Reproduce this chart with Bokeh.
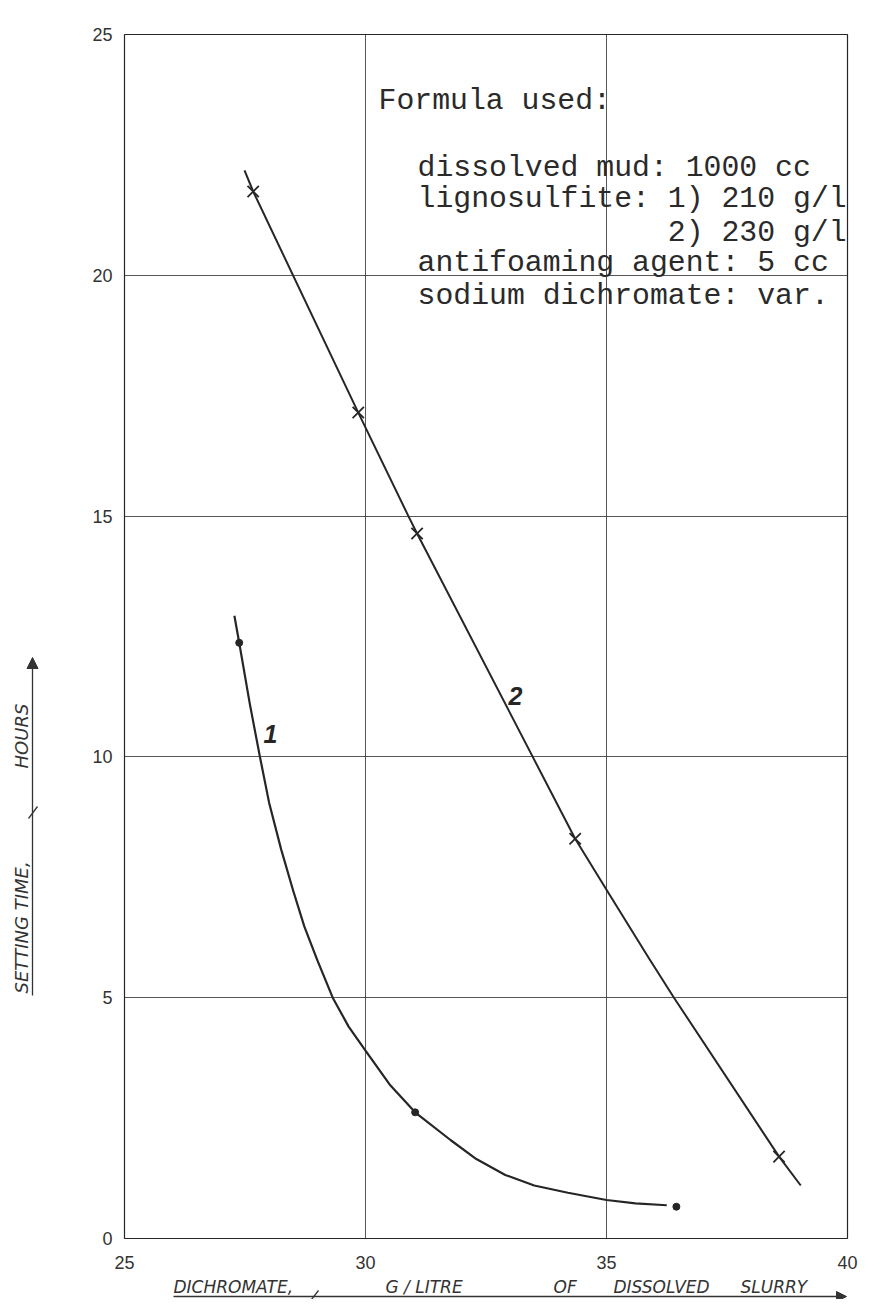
import math
from bokeh.plotting import figure
from bokeh.layouts import row, column
from bokeh.models import Range1d, Label, Arrow, NormalHead, FixedTicker
from bokeh.embed import file_html
from bokeh.resources import INLINE
from bokeh.core.properties import value

# ---------------- data ----------------
x_ticks = [25, 30, 35, 40]
y_ticks = [0, 5, 10, 15, 20, 25]

# curve 1 (lignosulfite 210 g/l): traced line and measured points
curve1_x = [27.28, 27.38, 27.60, 27.81, 28.00, 28.25, 28.50, 28.73, 29.00, 29.32, 29.65, 30.00,
            30.50, 31.03, 31.77, 32.30, 32.90, 33.50, 34.20, 35.00, 35.60, 36.25]
curve1_y = [12.93, 12.37, 11.10, 10.00, 9.05, 8.08, 7.22, 6.48, 5.78, 5.00, 4.40, 3.90,
            3.20, 2.62, 2.04, 1.65, 1.32, 1.10, 0.95, 0.80, 0.73, 0.69]
points1_x = [27.38, 31.03, 36.45]
points1_y = [12.37, 2.62, 0.66]

# curve 2 (lignosulfite 230 g/l): traced line and measured points
curve2_x = [27.49, 27.67, 29.85, 30.89, 31.07, 33.47, 34.35, 35.00, 35.88, 36.40, 38.58, 39.03]
curve2_y = [22.18, 21.74, 17.15, 15.00, 14.64, 10.00, 8.30, 7.24, 5.82, 5.00, 1.70, 1.10]
points2_x = [27.67, 29.85, 31.07, 34.35, 38.58]
points2_y = [21.74, 17.15, 14.64, 8.30, 1.70]

curve_names = ["1", "2"]
formula_lines = [
    "Formula used:",
    "dissolved mud: 1000 cc",
    "lignosulfite: 1) 210 g/l",
    "2) 230 g/l",
    "antifoaming agent: 5 cc",
    "sodium dichromate: var.",
]
x_title_parts = ["DICHROMATE,", "G / LITRE", "OF", "DISSOLVED", "SLURRY"]
y_title_parts = ["SETTING TIME,", "HOURS"]

# ---------------- layout (page pixels) ----------------
W, H = 862, 1299
LEFT_W = 48
FL, FR, FT, FB = 124, 847, 34, 1238
BOTTOM_H = 25
MAIN_H = H - BOTTOM_H

def px2x(px):
    return 25 + (px - FL) * 15.0 / (FR - FL)
def px2y(py):
    return (FB - py) * 25.0 / (FB - FT)

INK = "#262626"
TXT = "#333333"
HAND = "DejaVu Sans"

def blank_fig(w, h, xr, yr, bl=0, br=0):
    f = figure(width=w, height=h, x_range=xr, y_range=yr, output_backend="svg",
               toolbar_location=None, title=None, x_axis_type=None, y_axis_type=None,
               min_border=0, min_border_left=bl, min_border_right=br,
               min_border_top=0, min_border_bottom=0)
    f.grid.visible = False
    f.outline_line_color = None
    f.background_fill_color = "white"
    f.border_fill_color = "white"
    return f

# ---------------- main chart ----------------
p = figure(width=W - LEFT_W, height=MAIN_H, x_range=Range1d(25, 40), y_range=Range1d(0, 25),
           output_backend="svg", toolbar_location=None, title=None,
           min_border_left=FL - LEFT_W, min_border_right=W - FR,
           min_border_top=FT, min_border_bottom=MAIN_H - FB)
p.background_fill_color = "white"
p.border_fill_color = "white"
p.outline_line_color = INK
p.outline_line_width = 1.2

for ax, ticks in ((p.xaxis, x_ticks), (p.yaxis, y_ticks)):
    ax.ticker = FixedTicker(ticks=ticks)
    ax.axis_line_color = None
    ax.major_tick_line_color = None
    ax.minor_tick_line_color = None
    ax.major_label_text_font = "Liberation Sans"
    ax.major_label_text_font_size = "18px"
    ax.major_label_text_color = TXT
p.xaxis.major_label_standoff = 11
p.yaxis.major_label_standoff = 6

p.xgrid.ticker = FixedTicker(ticks=x_ticks)
p.ygrid.ticker = FixedTicker(ticks=y_ticks)
for g in (p.xgrid, p.ygrid):
    g.grid_line_color = "#3a3a3a"
    g.grid_line_width = 1
    g.grid_line_alpha = 0.85

p.line(curve1_x, curve1_y, line_color=INK, line_width=2.2, line_join="round")
p.scatter(points1_x, points1_y, marker="circle", size=7, fill_color=INK, line_color=INK)
p.line(curve2_x, curve2_y, line_color=INK, line_width=2.0, line_join="round")
p.scatter(points2_x, points2_y, marker="x", size=16, line_color=INK, line_width=1.8)

for name, (lx, ly_) in zip(curve_names, [(270, 733), (515, 695)]):
    p.add_layout(Label(x=px2x(lx), y=px2y(ly_), text=name, text_font="Liberation Sans",
                       text_font_style="bold italic", text_font_size="25px", text_color=INK,
                       text_align="center", text_baseline="middle"))

fs = 29.8
cw = 0.6 * fs
formula_pos = [(378, 100), (417, 167), (417, 198), (417 + 14 * cw, 232), (417, 262), (417, 295)]
for txt, (lx, ly_) in zip(formula_lines, formula_pos):
    p.add_layout(Label(x=px2x(lx), y=px2y(ly_), text=txt, text_font="Liberation Mono",
                       text_font_size=f"{fs}px", text_color="#2a2a2a",
                       text_align="left", text_baseline="alphabetic"))

# ---------------- y-axis title strip (left) ----------------
left = blank_fig(LEFT_W, H, Range1d(0, LEFT_W), Range1d(0, H))
def ly(py):
    return H - py
left.text(x=[21, 21], y=[ly(993), ly(768)], text=y_title_parts, angle=math.pi / 2,
          text_align="left", text_baseline="middle", text_font=value(HAND),
          text_font_style="italic", text_font_size="18px", text_color=TXT)
left.add_layout(Arrow(x_start=32, y_start=ly(995), x_end=32, y_end=ly(657),
                      line_color=TXT, line_width=1.3,
                      end=NormalHead(size=11, fill_color=TXT, line_color=TXT)))
left.add_layout(Arrow(x_start=28, y_start=ly(818), x_end=37, y_end=ly(806),
                      line_color=TXT, line_width=1.3, end=None))

# ---------------- x-axis title strip (bottom) ----------------
bottom = blank_fig(W - LEFT_W, BOTTOM_H, Range1d(FL, FR), Range1d(0, BOTTOM_H),
                   bl=FL - LEFT_W, br=W - FR)
def by(py):
    return H - py
bottom.text(x=[173, 385, 553, 613, 740], y=[by(1286)] * 5, text=x_title_parts,
            text_align="left", text_baseline="middle", text_font=value(HAND),
            text_font_style="italic", text_font_size="17px", text_color=TXT)
bottom.add_layout(Arrow(x_start=173, y_start=by(1296), x_end=846, y_end=by(1296),
                        line_color=TXT, line_width=1.3,
                        end=NormalHead(size=10, fill_color=TXT, line_color=TXT)))
bottom.add_layout(Arrow(x_start=318, y_start=by(1290), x_end=311, y_end=by(1299),
                        line_color=TXT, line_width=1.3, end=None))

layout = row(left, column(p, bottom, spacing=0), spacing=0)
open("out.html", "w").write(file_html(layout, INLINE))
